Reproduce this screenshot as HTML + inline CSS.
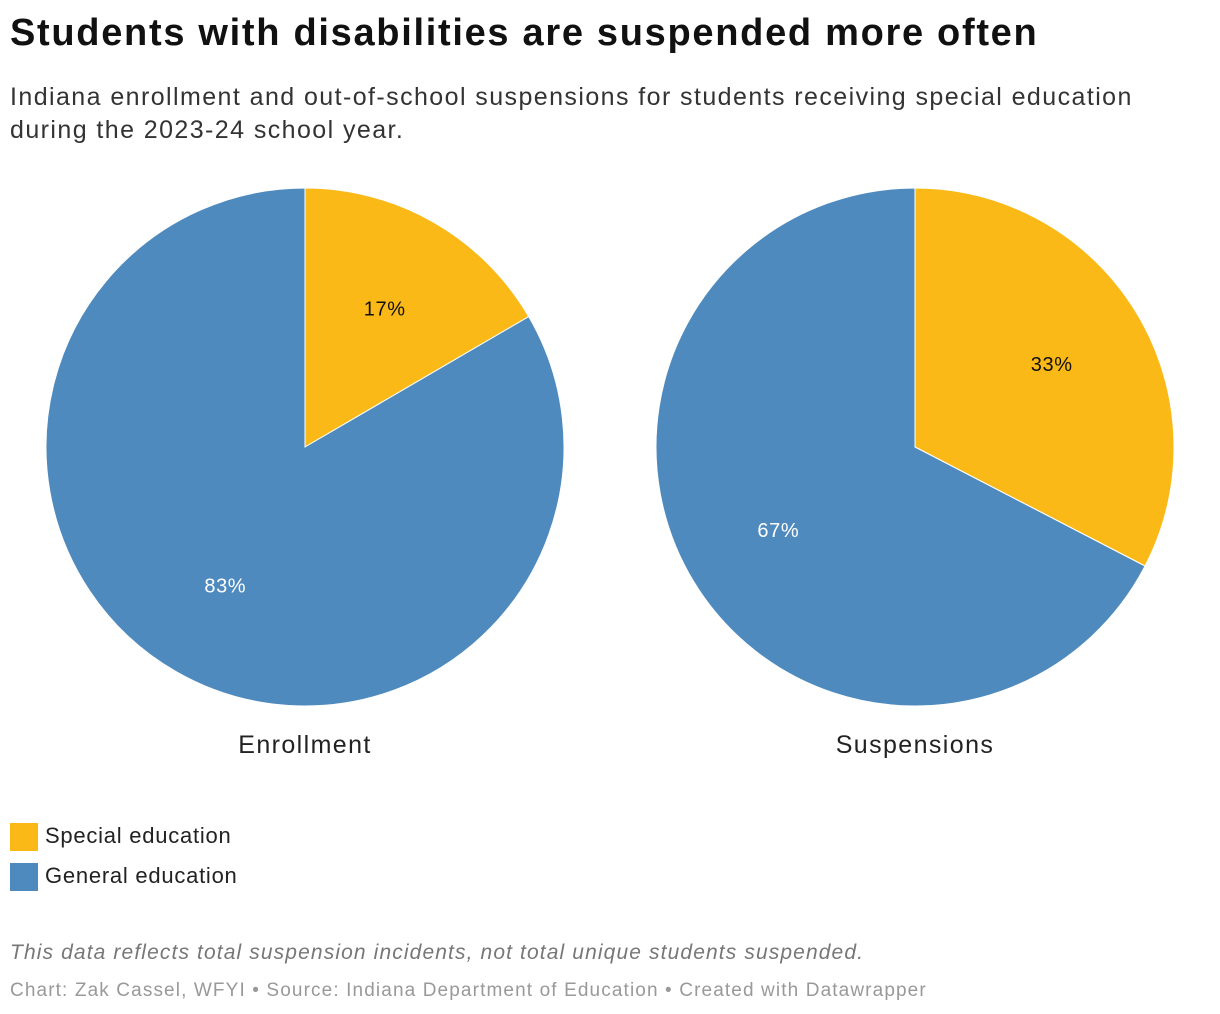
<!DOCTYPE html>
<html><head><meta charset="utf-8"><style>
body{margin:0;width:1220px;height:1014px;background:#fff;font-family:"Liberation Sans",sans-serif;position:relative;overflow:hidden}
.t{position:absolute;left:10px;white-space:nowrap}
</style></head><body>
<div class="t" style="top:12px;font-size:38px;font-weight:bold;color:#111;letter-spacing:1.7px">Students with disabilities are suspended more often</div>
<div class="t" style="top:81px;font-size:25px;line-height:33px;color:#333;letter-spacing:1.42px">Indiana enrollment and out-of-school suspensions for students receiving special education<br>during the 2023-24 school year.</div>
<svg id="chart" width="1220" height="780" style="position:absolute;left:0;top:0"></svg>
<div>
<div style="position:absolute;left:10px;top:823px;width:28px;height:28px;background:#fbb918"></div>
<div class="t" style="left:45px;top:823px;font-size:22px;color:#222;letter-spacing:0.75px">Special education</div>
<div style="position:absolute;left:10px;top:863px;width:28px;height:28px;background:#4e8abe"></div>
<div class="t" style="left:45px;top:863px;font-size:22px;color:#222;letter-spacing:0.75px">General education</div>
</div>
<div class="t" style="top:941px;font-size:21px;font-style:italic;color:#777;letter-spacing:1.12px">This data reflects total suspension incidents, not total unique students suspended.</div>
<div class="t" style="top:980px;font-size:19px;color:#999;letter-spacing:1.12px">Chart: Zak Cassel, WFYI • Source: Indiana Department of Education • Created with Datawrapper</div>
<script>
const charts=["Enrollment","Suspensions"];
const categories=["Special education","General education"];
const special=[16.6,32.6];
const general=[83.4,67.4];
const colors=["#fbb918","#4e8abe"];
const labelColors=["#111","#fff"];
const svg=document.getElementById('chart');
const NS="http://www.w3.org/2000/svg";
const R=259,cy=447;
function pt(cx,a,r){return [cx+r*Math.sin(a),cy-r*Math.cos(a)];}
charts.forEach((name,i)=>{
  const cx=305+i*610;
  const vals=[special[i],general[i]];
  const tot=vals[0]+vals[1];
  let a0=0;
  vals.forEach((v,j)=>{
    const a1=a0+v/tot*2*Math.PI;
    const p0=pt(cx,a0,R),p1=pt(cx,a1,R);
    const large=(a1-a0)>Math.PI?1:0;
    const path=document.createElementNS(NS,'path');
    path.setAttribute('d',`M${cx},${cy}L${p0[0]},${p0[1]}A${R},${R} 0 ${large} 1 ${p1[0]},${p1[1]}Z`);
    path.setAttribute('fill',colors[j]);
    path.setAttribute('stroke','#fff');
    path.setAttribute('stroke-width','1');
    
    
    svg.appendChild(path);
    const lp=pt(cx,(a0+a1)/2,160);
    const tx=document.createElementNS(NS,'text');
    tx.setAttribute('x',lp[0]);tx.setAttribute('y',lp[1]+7);
    tx.setAttribute('text-anchor','middle');tx.setAttribute('font-size','20');
    tx.setAttribute('letter-spacing','0.6');
    tx.setAttribute('fill',labelColors[j]);
    tx.textContent=Math.round(v)+'%';
    
    
    svg.appendChild(tx);
    a0=a1;
  });
  const t=document.createElementNS(NS,'text');
  t.setAttribute('x',cx);t.setAttribute('y',753);t.setAttribute('text-anchor','middle');
  t.setAttribute('font-size','25');t.setAttribute('fill','#222');
  t.setAttribute('letter-spacing','1.4');
  t.textContent=name;
  
  
  svg.appendChild(t);
});
</script>
</body></html>
